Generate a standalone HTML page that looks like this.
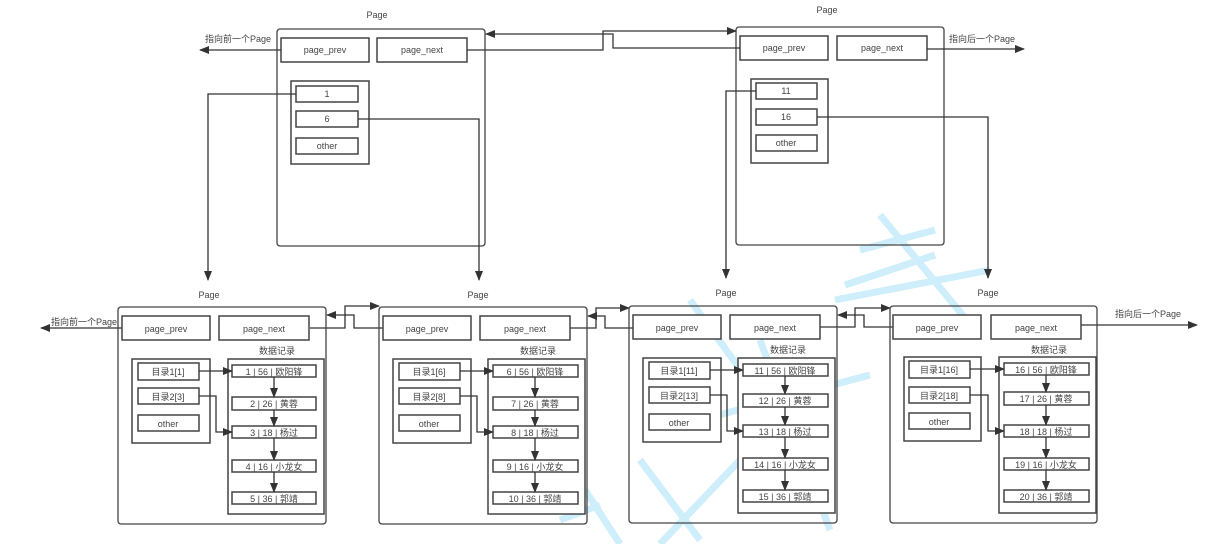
<!DOCTYPE html>
<html><head><meta charset="utf-8"><style>
html,body{margin:0;padding:0;background:#fff;}
svg{display:block;}
text{font-family:"Liberation Sans","Noto Sans CJK SC",sans-serif;font-size:9px;fill:#444;text-anchor:middle;}
.b{fill:#fff;stroke:#444;stroke-width:1.5;}
.o{fill:none;stroke:#444;stroke-width:1.3;}
.l{fill:none;stroke:#333;stroke-width:1.3;}
.w{fill:none;stroke:#cdeefa;stroke-width:7;}
</style></head><body>
<svg width="1216" height="544" viewBox="0 0 1216 544" xmlns="http://www.w3.org/2000/svg">
<defs>
<marker id="a" markerWidth="10" markerHeight="8" refX="9" refY="4" orient="auto" markerUnits="userSpaceOnUse">
<path d="M0,0 L10,4 L0,8 z" fill="#333"/></marker>
</defs>

<!-- watermark approx -->
<g>
<path class="w" d="M880,215 L975,330"/>
<path class="w" d="M860,250 L935,230"/>
<path class="w" d="M845,285 L935,255"/>
<path class="w" d="M835,300 L990,270"/>
<path class="w" d="M690,300 L820,480"/>
<path class="w" d="M760,340 L830,530"/>
<path class="w" d="M700,420 L870,375"/>
<path class="w" d="M585,490 L620,544"/>
<path class="w" d="M640,460 L700,540"/>
<path class="w" d="M740,460 L660,544"/>
<path class="w" d="M560,520 L600,505"/>
</g>

<!-- top page 1 -->
<g transform="translate(277,29)">
<text x="100" y="-11">Page</text>
<rect class="o" x="0" y="0" width="208" height="217" rx="3"/>
<rect class="b" x="4" y="9" width="88" height="24"/><text x="48" y="24">page_prev</text>
<rect class="b" x="100" y="9" width="90" height="24"/><text x="145" y="24">page_next</text>
<rect class="b" x="14" y="52" width="78" height="83"/>
<rect class="b" x="19" y="57" width="62" height="16"/><text x="50" y="68">1</text>
<rect class="b" x="19" y="82" width="62" height="16"/><text x="50" y="93">6</text>
<rect class="b" x="19" y="109" width="62" height="16"/><text x="50" y="120">other</text>
</g>
<!-- top page 2 -->
<g transform="translate(736,27)">
<text x="91" y="-14">Page</text>
<rect class="o" x="0" y="0" width="208" height="218" rx="3"/>
<rect class="b" x="4" y="9" width="88" height="24"/><text x="48" y="24">page_prev</text>
<rect class="b" x="101" y="9" width="90" height="24"/><text x="146" y="24">page_next</text>
<rect class="b" x="15" y="52" width="77" height="84"/>
<rect class="b" x="20" y="56" width="61" height="16"/><text x="50" y="67">11</text>
<rect class="b" x="20" y="82" width="61" height="16"/><text x="50" y="93">16</text>
<rect class="b" x="20" y="108" width="61" height="16"/><text x="50" y="119">other</text>
</g>

<text x="238" y="42">指向前一个Page</text>
<path class="l" d="M281,50 L200,50" marker-end="url(#a)"/>
<text x="982" y="42">指向后一个Page</text>
<path class="l" d="M927,49 L1024,49" marker-end="url(#a)"/>
<path class="l" d="M467,50 L603,50 L603,31 L736,31" marker-end="url(#a)"/>
<path class="l" d="M740,48 L613,48 L613,34 L486,34" marker-end="url(#a)"/>
<path class="l" d="M296,94 L208,94 L208,280" marker-end="url(#a)"/>
<path class="l" d="M358,119 L479,119 L479,280" marker-end="url(#a)"/>
<path class="l" d="M756,91 L726,91 L726,278" marker-end="url(#a)"/>
<path class="l" d="M817,117 L988,117 L988,278" marker-end="url(#a)"/>

<!-- bottom pages connectors -->
<text x="84" y="325">指向前一个Page</text>
<path class="l" d="M122,328 L41,328" marker-end="url(#a)"/>
<path class="l" d="M310,328 L345,328 L345,306 L379,306" marker-end="url(#a)"/>
<path class="l" d="M383,328 L354,328 L354,315 L327,315" marker-end="url(#a)"/>
<path class="l" d="M570,328 L596,328 L596,308 L629,308" marker-end="url(#a)"/>
<path class="l" d="M633,328 L605,328 L605,316 L588,316" marker-end="url(#a)"/>
<path class="l" d="M820,327 L855,327 L855,308 L890,308" marker-end="url(#a)"/>
<path class="l" d="M894,327 L864,327 L864,315 L838,315" marker-end="url(#a)"/>
<text x="1148" y="317">指向后一个Page</text>
<path class="l" d="M1081,325 L1197,325" marker-end="url(#a)"/>

<!-- bottom page 1 -->
<g transform="translate(118,307)">
<text x="91" y="-9">Page</text>
<rect class="o" x="0" y="0" width="208" height="217" rx="3"/>
<rect class="b" x="4" y="9" width="88" height="24"/><text x="48" y="25">page_prev</text>
<rect class="b" x="101" y="9" width="90" height="24"/><text x="146" y="25">page_next</text>
<text x="159" y="47">数据记录</text>
<rect class="b" x="14" y="52" width="78" height="84"/>
<rect class="b" x="20" y="56" width="61" height="17"/><text x="50" y="68">目录1[1]</text>
<rect class="b" x="20" y="81" width="61" height="16"/><text x="50" y="93">目录2[3]</text>
<rect class="b" x="20" y="108" width="61" height="16"/><text x="50" y="120">other</text>
<rect class="b" x="110" y="52" width="96" height="155"/>
<rect class="b" x="114" y="58" width="84" height="12"/><text x="156" y="68">1 | 56 | 欧阳锋</text>
<rect class="b" x="114" y="90" width="84" height="13"/><text x="156" y="100">2 | 26 | 黄蓉</text>
<rect class="b" x="114" y="119" width="84" height="12"/><text x="156" y="129">3 | 18 | 杨过</text>
<rect class="b" x="114" y="153" width="84" height="12"/><text x="156" y="163">4 | 16 | 小龙女</text>
<rect class="b" x="114" y="185" width="84" height="12"/><text x="156" y="195">5 | 36 | 郭靖</text>
<path class="l" d="M81,64 L114,64" marker-end="url(#a)"/>
<path class="l" d="M81,89 L98,89 L98,125 L114,125" marker-end="url(#a)"/>
<path class="l" d="M156,70 L156,90" marker-end="url(#a)"/>
<path class="l" d="M156,103 L156,119" marker-end="url(#a)"/>
<path class="l" d="M156,131 L156,153" marker-end="url(#a)"/>
<path class="l" d="M156,165 L156,185" marker-end="url(#a)"/>
</g>

<!-- bottom page 2 -->
<g transform="translate(379,307)">
<text x="99" y="-9">Page</text>
<rect class="o" x="0" y="0" width="208" height="217" rx="3"/>
<rect class="b" x="4" y="9" width="88" height="24"/><text x="48" y="25">page_prev</text>
<rect class="b" x="101" y="9" width="90" height="24"/><text x="146" y="25">page_next</text>
<text x="159" y="47">数据记录</text>
<rect class="b" x="14" y="52" width="78" height="84"/>
<rect class="b" x="20" y="56" width="61" height="17"/><text x="50" y="68">目录1[6]</text>
<rect class="b" x="20" y="81" width="61" height="16"/><text x="50" y="93">目录2[8]</text>
<rect class="b" x="20" y="108" width="61" height="16"/><text x="50" y="120">other</text>
<rect class="b" x="109" y="52" width="97" height="155"/>
<rect class="b" x="114" y="58" width="85" height="12"/><text x="156" y="68">6 | 56 | 欧阳锋</text>
<rect class="b" x="114" y="90" width="85" height="13"/><text x="156" y="100">7 | 26 | 黄蓉</text>
<rect class="b" x="114" y="119" width="85" height="12"/><text x="156" y="129">8 | 18 | 杨过</text>
<rect class="b" x="114" y="153" width="85" height="12"/><text x="156" y="163">9 | 16 | 小龙女</text>
<rect class="b" x="114" y="185" width="85" height="12"/><text x="156" y="195">10 | 36 | 郭靖</text>
<path class="l" d="M81,64 L114,64" marker-end="url(#a)"/>
<path class="l" d="M81,89 L98,89 L98,125 L114,125" marker-end="url(#a)"/>
<path class="l" d="M156,70 L156,90" marker-end="url(#a)"/>
<path class="l" d="M156,103 L156,119" marker-end="url(#a)"/>
<path class="l" d="M156,131 L156,153" marker-end="url(#a)"/>
<path class="l" d="M156,165 L156,185" marker-end="url(#a)"/>
</g>

<!-- bottom page 3 -->
<g transform="translate(629,306)">
<text x="97" y="-10">Page</text>
<rect class="o" x="0" y="0" width="208" height="217" rx="3"/>
<rect class="b" x="4" y="9" width="88" height="24"/><text x="48" y="25">page_prev</text>
<rect class="b" x="101" y="9" width="90" height="24"/><text x="146" y="25">page_next</text>
<text x="159" y="47">数据记录</text>
<rect class="b" x="14" y="52" width="78" height="84"/>
<rect class="b" x="20" y="56" width="61" height="17"/><text x="50" y="68">目录1[11]</text>
<rect class="b" x="20" y="81" width="61" height="16"/><text x="50" y="93">目录2[13]</text>
<rect class="b" x="20" y="108" width="61" height="16"/><text x="50" y="120">other</text>
<rect class="b" x="109" y="52" width="97" height="155"/>
<rect class="b" x="114" y="58" width="85" height="12"/><text x="156" y="68">11 | 56 | 欧阳锋</text>
<rect class="b" x="114" y="88" width="85" height="13"/><text x="156" y="98">12 | 26 | 黄蓉</text>
<rect class="b" x="114" y="119" width="85" height="12"/><text x="156" y="129">13 | 18 | 杨过</text>
<rect class="b" x="114" y="152" width="85" height="12"/><text x="156" y="162">14 | 16 | 小龙女</text>
<rect class="b" x="114" y="184" width="85" height="12"/><text x="156" y="194">15 | 36 | 郭靖</text>
<path class="l" d="M81,64 L114,64" marker-end="url(#a)"/>
<path class="l" d="M81,89 L98,89 L98,125 L114,125" marker-end="url(#a)"/>
<path class="l" d="M156,70 L156,88" marker-end="url(#a)"/>
<path class="l" d="M156,101 L156,119" marker-end="url(#a)"/>
<path class="l" d="M156,131 L156,152" marker-end="url(#a)"/>
<path class="l" d="M156,164 L156,184" marker-end="url(#a)"/>
</g>

<!-- bottom page 4 -->
<g transform="translate(890,306)">
<text x="98" y="-10">Page</text>
<rect class="o" x="0" y="0" width="207" height="217" rx="3"/>
<rect class="b" x="3" y="9" width="88" height="24"/><text x="47" y="25">page_prev</text>
<rect class="b" x="101" y="9" width="90" height="24"/><text x="146" y="25">page_next</text>
<text x="159" y="47">数据记录</text>
<rect class="b" x="14" y="51" width="77" height="84"/>
<rect class="b" x="19" y="55" width="61" height="17"/><text x="49" y="67">目录1[16]</text>
<rect class="b" x="19" y="81" width="61" height="16"/><text x="49" y="93">目录2[18]</text>
<rect class="b" x="19" y="107" width="61" height="16"/><text x="49" y="119">other</text>
<rect class="b" x="109" y="51" width="97" height="156"/>
<rect class="b" x="114" y="57" width="85" height="12"/><text x="156" y="67">16 | 56 | 欧阳锋</text>
<rect class="b" x="114" y="86" width="85" height="13"/><text x="156" y="96">17 | 26 | 黄蓉</text>
<rect class="b" x="114" y="119" width="85" height="12"/><text x="156" y="129">18 | 18 | 杨过</text>
<rect class="b" x="114" y="152" width="85" height="12"/><text x="156" y="162">19 | 16 | 小龙女</text>
<rect class="b" x="114" y="184" width="85" height="12"/><text x="156" y="194">20 | 36 | 郭靖</text>
<path class="l" d="M80,63 L114,63" marker-end="url(#a)"/>
<path class="l" d="M80,89 L98,89 L98,125 L114,125" marker-end="url(#a)"/>
<path class="l" d="M156,69 L156,86" marker-end="url(#a)"/>
<path class="l" d="M156,99 L156,119" marker-end="url(#a)"/>
<path class="l" d="M156,131 L156,152" marker-end="url(#a)"/>
<path class="l" d="M156,164 L156,184" marker-end="url(#a)"/>
</g>
</svg>
</body></html>
